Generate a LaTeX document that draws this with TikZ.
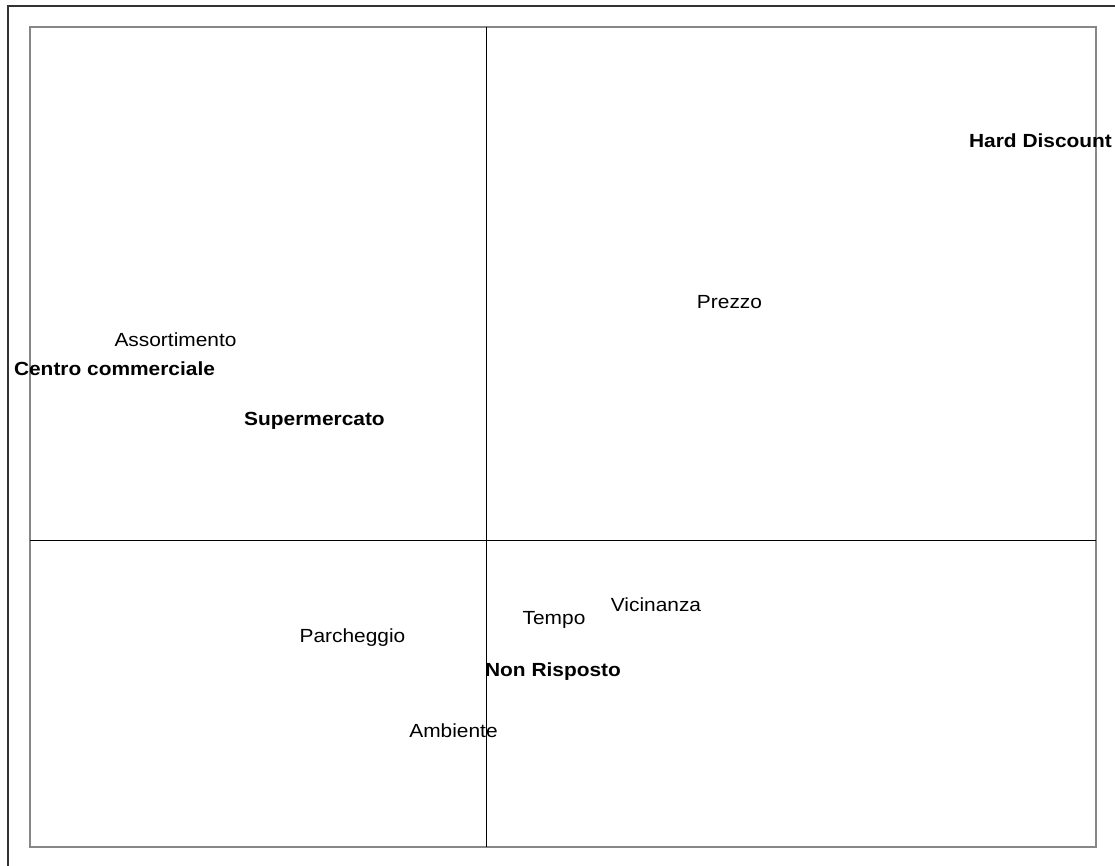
\documentclass[tikz,border=0pt]{standalone}
\usepackage{fontspec}
\setmainfont{Liberation Sans}
\usetikzlibrary{positioning}

\begin{document}
\begin{tikzpicture}[x=1pt, y=-1pt,
          word/.style={font=\fontsize{19}{22}\selectfont, anchor=base, xscale=1.1, transform shape, inner sep=0pt},
          group/.style={word, font=\fontsize{19}{22}\selectfont\bfseries}]
  \useasboundingbox (0,0) rectangle (1115,865);
  \fill[white] (0,0) rectangle (1115,865);

  % frames
  \draw[line width=1.6pt, color=black!80] (8,6) rectangle (1130,880);
  \draw[line width=2.4pt, color=black!47] (30,27) rectangle (1096,847);

  % axes
  \coordinate (top) at (486.5,27);
  \coordinate (bottom) at (486.5,847);
  \coordinate (left) at (30,540);
  \coordinate (right) at (1096,540);
  \draw[line width=1pt] (top) -- (bottom);
  \draw[line width=1pt] (left) -- (right);

  % variables
  \node[word] (prezzo) at (729.5,308) {Prezzo};
  \node[word] (assortimento) at (175.5,346) {Assortimento};
  \node[word] (parcheggio) at (352.5,642) {Parcheggio};
  \node[word] (tempo) at (554,624) {Tempo};
  \node[word] (vicinanza) at (656,611) {Vicinanza};
  \node[word] (ambiente) at (453.5,737) {Ambiente};

  % points of sale
  \node[group] (hard) at (1040.5,147) {Hard Discount};
  \node[group] (centro) at (114.5,375) {Centro commerciale};
  \node[group] (super) at (314.5,425) {Supermercato};
  \node[group] (nonrisp) at (553,676) {Non Risposto};
\end{tikzpicture}
\end{document}
